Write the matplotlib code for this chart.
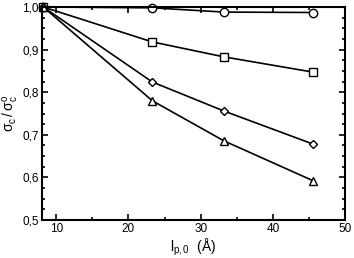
import matplotlib
matplotlib.use("Agg")
import matplotlib.pyplot as plt
from matplotlib.ticker import MultipleLocator, FuncFormatter

plt.rcParams['font.family'] = ['Liberation Sans', 'DejaVu Sans']
plt.rcParams['mathtext.fontset'] = 'custom'
plt.rcParams['mathtext.rm'] = 'Liberation Sans'
plt.rcParams['mathtext.it'] = 'Liberation Sans'

lp = [8.2, 23.3, 33.2, 45.6]
circles = [1.0, 0.998, 0.988, 0.987]
squares = [1.0, 0.918, 0.883, 0.847]
diamonds = [1.0, 0.824, 0.756, 0.678]
triangles = [1.0, 0.780, 0.686, 0.592]

fig = plt.figure(figsize=(3.54, 2.58), dpi=100)
ax = fig.add_axes([0.118, 0.147, 0.857, 0.826])

for vals, m, ms in [(circles, 'o', 6), (squares, 's', 5.5), (diamonds, 'D', 4.5), (triangles, '^', 6)]:
    ax.plot(lp, vals, color='black', lw=1.2, marker=m, ms=ms,
            mfc='white', mec='black', mew=1.0, clip_on=False)

ax.set_xlim(8, 50)
ax.set_ylim(0.5, 1.0)
ax.xaxis.set_major_locator(MultipleLocator(10))
ax.xaxis.set_minor_locator(MultipleLocator(5))
ax.yaxis.set_major_locator(MultipleLocator(0.1))
ax.yaxis.set_minor_locator(MultipleLocator(0.025))
ax.yaxis.set_major_formatter(FuncFormatter(lambda v, p: f"{v:.1f}".replace('.', ',')))
ax.tick_params(which='both', direction='in', top=True, right=True, labelsize=8.5, width=1.2, pad=2)
ax.tick_params(which='major', length=4)
ax.tick_params(which='minor', length=2.5)
for s in ax.spines.values():
    s.set_linewidth(1.5)

ax.set_xlabel(r'l$_{\rm p,0}$  (Å)', fontsize=10, labelpad=1)
ax.set_ylabel(r'$\sigma_{\rm c}\,/\,\sigma_{\rm c}^{\rm o}$', fontsize=10, labelpad=1)

fig.savefig('out.png', dpi=100)
